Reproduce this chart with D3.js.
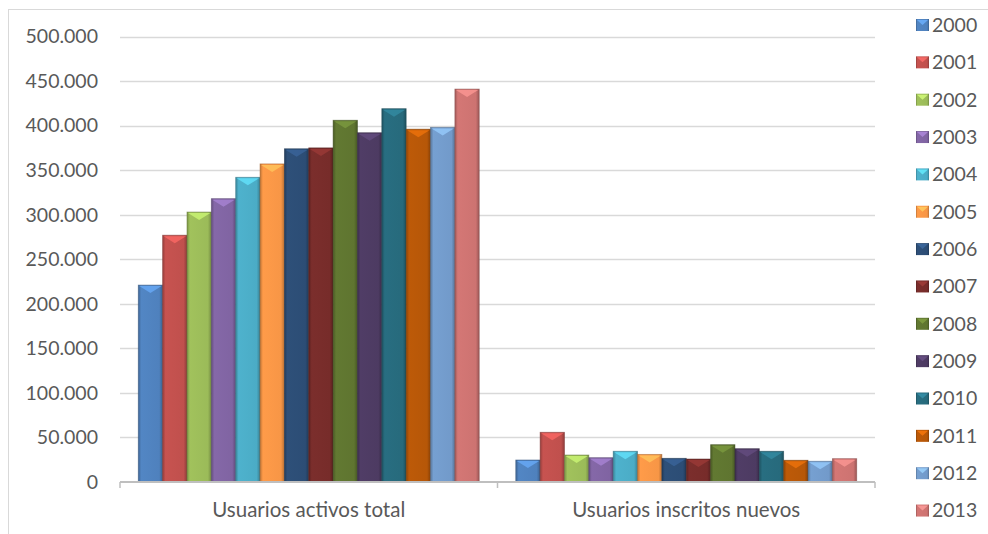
<!DOCTYPE html>
<html>
<head>
<meta charset="utf-8">
<script src="https://cdn.jsdelivr.net/npm/d3@7"></script>
<style>
  body { margin: 0; background: #fff; }
  text { font-family: Lato, "Liberation Sans", sans-serif; fill: #595959; }
</style>
</head>
<body>
<div class="chart"></div>
<script>
// categories and series
var categories = ["Usuarios activos total", "Usuarios inscritos nuevos"];
var years = ["2000","2001","2002","2003","2004","2005","2006","2007","2008","2009","2010","2011","2012","2013"];
var activos = [221000, 277000, 303000, 318000, 342000, 357000, 374000, 375000, 406000, 392000, 419000, 396000, 398000, 441000];
var nuevos  = [24700, 55800, 30300, 27300, 34500, 31000, 26600, 25800, 41900, 37400, 34500, 24400, 23300, 26200];
var colors = ["#4F81BD","#C0504D","#9BBB59","#8064A2","#4BACC6","#F79646","#2C4D75","#772C2A","#5F7530","#4D3B62","#276A7C","#B65708","#729ACA","#CD7371"];
var yTicks = [0, 50000, 100000, 150000, 200000, 250000, 300000, 350000, 400000, 450000, 500000];

var width = 988, height = 534;

var svg = d3.select(".chart").append("svg")
        .attr("width", width)
        .attr("height", height);

var defs = svg.append("defs");

// bevel-ish gradients, one per year
colors.forEach(function(c, i){
    var base = d3.color(c);
    var g = defs.append("linearGradient")
        .attr("id", "g" + i)
        .attr("x1", "0%").attr("x2", "100%")
        .attr("y1", "0%").attr("y2", "0%");
    g.append("stop").attr("offset", "0%").attr("stop-color", base.darker(0.7));
    g.append("stop").attr("offset", "12%").attr("stop-color", base.brighter(0.1));
    g.append("stop").attr("offset", "86%").attr("stop-color", base);
    g.append("stop").attr("offset", "100%").attr("stop-color", base.darker(0.8));
});

// chart frame (left and top only visible)
svg.append("line")
    .attr("x1", 8.5).attr("x2", 8.5)
    .attr("y1", 9).attr("y2", height)
    .style("stroke", "#d9d9d9");
svg.append("line")
    .attr("x1", 8).attr("x2", width)
    .attr("y1", 9.5).attr("y2", 9.5)
    .style("stroke", "#d9d9d9");

var x0 = d3.scaleBand()
    .domain(categories)
    .range([120, 875]);

var x1 = d3.scaleBand()
    .domain(years)
    .range([0, x0.bandwidth()])
    .paddingOuter(0.75);

var y = d3.scaleLinear()
    .domain([0, 500000])
    .range([482, 36.5]);

var fmt = function(v){ return v === 0 ? "0" : d3.format(",")(v).replace(/,/g, "."); };

// gridlines
svg.append("g")
    .selectAll("line")
    .data(yTicks.slice(1))
    .enter().append("line")
    .attr("x1", 120).attr("x2", 875)
    .attr("y1", function(d){ return Math.round(y(d)) + 0.5; })
    .attr("y2", function(d){ return Math.round(y(d)) + 0.5; })
    .style("stroke", "#d9d9d9")
    .style("stroke-width", 1.5);

// y labels
svg.append("g")
    .selectAll("text")
    .data(yTicks)
    .enter().append("text")
    .attr("x", 98)
    .attr("y", function(d){ return y(d); })
    .attr("dy", "0.35em")
    .attr("text-anchor", "end")
    .attr("font-size", "19.5px")
    .text(fmt);

// bars
var series = [activos, nuevos];
var groups = svg.append("g")
    .selectAll("g")
    .data(categories)
    .enter().append("g")
    .attr("transform", function(d){ return "translate(" + x0(d) + ",0)"; });

groups.each(function(cat, ci){
    var gsel = d3.select(this);
    var vals = series[ci];
    var bw = x1.bandwidth();

    gsel.selectAll("rect")
        .data(years)
        .enter().append("rect")
        .attr("x", function(d){ return x1(d); })
        .attr("y", function(d, i){ return y(vals[i]); })
        .attr("width", bw)
        .attr("height", function(d, i){ return y(0) - y(vals[i]); })
        .style("fill", function(d, i){ return "url(#g" + i + ")"; })
        .style("stroke", function(d, i){ return d3.color(colors[i]).darker(1.2); })
        .style("stroke-width", 0.8)
        .style("stroke-opacity", 0.6);

    // lighter chevron at the top of each bar
    gsel.selectAll("path")
        .data(years)
        .enter().append("path")
        .attr("d", function(d, i){
            var xl = x1(d) + 1, xr = x1(d) + bw - 1, t = y(vals[i]) + 1;
            return "M" + xl + "," + t + "L" + xr + "," + t + "L" + (xl + bw / 2 - 1) + "," + (t + 7) + "Z";
        })
        .style("fill", function(d, i){ return d3.color(colors[i]).brighter(0.8); })
        .style("opacity", 0.75);
});

// category axis
svg.append("line")
    .attr("x1", 120).attr("x2", 875)
    .attr("y1", 482).attr("y2", 482)
    .style("stroke", "#bfbfbf")
    .style("stroke-width", 2);

svg.append("g")
    .selectAll("line")
    .data([120, x0(categories[1]), 875])
    .enter().append("line")
    .attr("x1", function(d){ return d; })
    .attr("x2", function(d){ return d; })
    .attr("y1", 482).attr("y2", 488)
    .style("stroke", "#bfbfbf")
    .style("stroke-width", 1.5);

svg.append("g")
    .selectAll("text")
    .data(categories)
    .enter().append("text")
    .attr("x", function(d){ return x0(d) + x0.bandwidth() / 2; })
    .attr("y", 510)
    .attr("dy", "0.35em")
    .attr("text-anchor", "middle")
    .attr("font-size", "20.5px")
    .text(function(d){ return d; });

// legend
var legend = svg.append("g")
    .selectAll("g")
    .data(years)
    .enter().append("g")
    .attr("transform", function(d, i){ return "translate(916," + (25 + i * 37.35) + ")"; });

legend.append("rect")
    .attr("x", 0).attr("y", -6)
    .attr("width", 13).attr("height", 12)
    .style("fill", function(d, i){ return "url(#g" + i + ")"; });

legend.append("path")
    .attr("d", "M1,-5L12,-5L6.5,0Z")
    .style("fill", function(d, i){ return d3.color(colors[i]).brighter(0.9); })
    .style("opacity", 0.8);

legend.append("text")
    .attr("x", 16)
    .attr("y", 0)
    .attr("dy", "0.35em")
    .attr("font-size", "19.5px")
    .text(function(d){ return d; });
</script>
</body>
</html>
